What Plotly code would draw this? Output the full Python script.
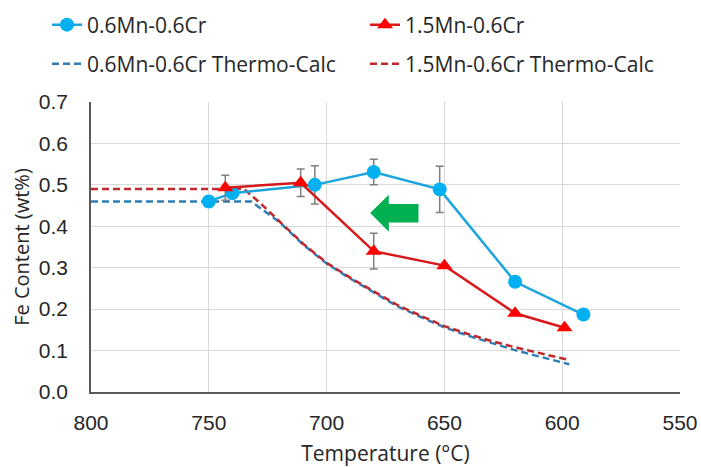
import plotly.graph_objects as go

# Measured data
t_a = [750, 740, 705, 680, 652, 620, 591]
fe_a = [0.46, 0.48, 0.50, 0.531, 0.489, 0.266, 0.187]
err_a = [0.012, 0.0, 0.046, 0.031, 0.056, 0.0, 0.0]

t_b = [743, 711, 680, 650, 620, 599]
fe_b = [0.493, 0.505, 0.340, 0.305, 0.190, 0.155]
err_b = [0.03, 0.033, 0.043, 0.0, 0.0, 0.0]

# Thermo-Calc predictions
tc_t_a = [800, 732, 726, 720, 710, 700, 690, 680, 670, 660, 650, 640, 630, 620, 610, 597]
tc_fe_a = [0.46, 0.46, 0.435, 0.41, 0.356, 0.31, 0.274, 0.241, 0.207, 0.181, 0.156, 0.136, 0.118, 0.101, 0.086, 0.067]
tc_t_b = [800, 735, 728, 720, 710, 700, 690, 680, 670, 660, 650, 640, 630, 620, 610, 597]
tc_fe_b = [0.49, 0.49, 0.455, 0.412, 0.358, 0.312, 0.276, 0.243, 0.21, 0.184, 0.159, 0.14, 0.123, 0.108, 0.094, 0.077]

names = ["0.6Mn-0.6Cr", "1.5Mn-0.6Cr", "0.6Mn-0.6Cr Thermo-Calc", "1.5Mn-0.6Cr Thermo-Calc"]

BLUE = "#1CA5DC"
RED = "#D7191C"
TCBLUE = "#2E7DB4"
TCRED = "#C0282D"
font_ui = "Open Sans"
font_num = "Liberation Sans"
TXT = "#262626"

fig = go.Figure()

fig.add_trace(go.Scatter(x=tc_t_a, y=tc_fe_a, mode="lines", name=names[2],
                         line=dict(color=TCBLUE, width=2.5, dash="7px,4px"), legend="legend3"))
fig.add_trace(go.Scatter(x=tc_t_b, y=tc_fe_b, mode="lines", name=names[3],
                         line=dict(color=TCRED, width=2.5, dash="7px,4px"), legend="legend4"))

fig.add_trace(go.Scatter(x=t_a, y=fe_a, mode="lines+markers", name=names[0],
                         line=dict(color=BLUE, width=2.5),
                         marker=dict(symbol="circle", size=14, color="#00B0F0"),
                         error_y=dict(type="data", array=err_a, color="#7F7F7F", thickness=1.5, width=4),
                         legend="legend"))
fig.add_trace(go.Scatter(x=t_b, y=fe_b, mode="lines+markers", name=names[1],
                         line=dict(color=RED, width=2.5),
                         marker=dict(symbol="triangle-up", size=14, color="#FF0000"),
                         error_y=dict(type="data", array=err_b, color="#7F7F7F", thickness=1.5, width=4),
                         legend="legend2"))

# green arrow pointing left (toward higher temperature)
arrow = "M 681.5,0.432 L 673.6,0.476 L 673.6,0.454 L 661,0.454 L 661,0.409 L 673.6,0.409 L 673.6,0.387 Z"
fig.add_shape(type="path", path=arrow, xref="x", yref="y", fillcolor="#00B050", line=dict(width=0))

axis_common = dict(showgrid=True, gridcolor="#D9D9D9", gridwidth=1, showline=True,
                   linecolor="#595959", linewidth=1.5, ticks="", zeroline=False,
                   tickfont=dict(family=font_num, size=21, color=TXT))

def leg(x, y):
    return dict(orientation="h", xref="container", yref="container", x=x, y=y,
                xanchor="left", yanchor="middle", borderwidth=0,
                font=dict(family=font_ui, size=21, color=TXT), bgcolor="rgba(0,0,0,0)")

fig.update_layout(
    width=701, height=467,
    margin=dict(l=91, r=21, t=102, b=75, autoexpand=False),
    paper_bgcolor="white", plot_bgcolor="white",
    xaxis=dict(range=[800, 550], dtick=50, tick0=550, ticklabelstandoff=11,
               title=dict(text="Temperature (°C)", font=dict(family=font_ui, size=21, color=TXT), standoff=15),
               **axis_common),
    yaxis=dict(range=[0, 0.7], dtick=0.1, tickformat=".1f", ticklabelstandoff=17,
               title=dict(text="Fe Content (wt%)", font=dict(family=font_ui, size=20, color=TXT), standoff=4),
               **axis_common),
    legend=leg(47 / 701, 1 - 25 / 467),
    legend2=leg(365 / 701, 1 - 25 / 467),
    legend3=leg(47 / 701, 1 - 64 / 467),
    legend4=leg(365 / 701, 1 - 64 / 467),
    showlegend=True,
)

fig.write_html("out.html")
